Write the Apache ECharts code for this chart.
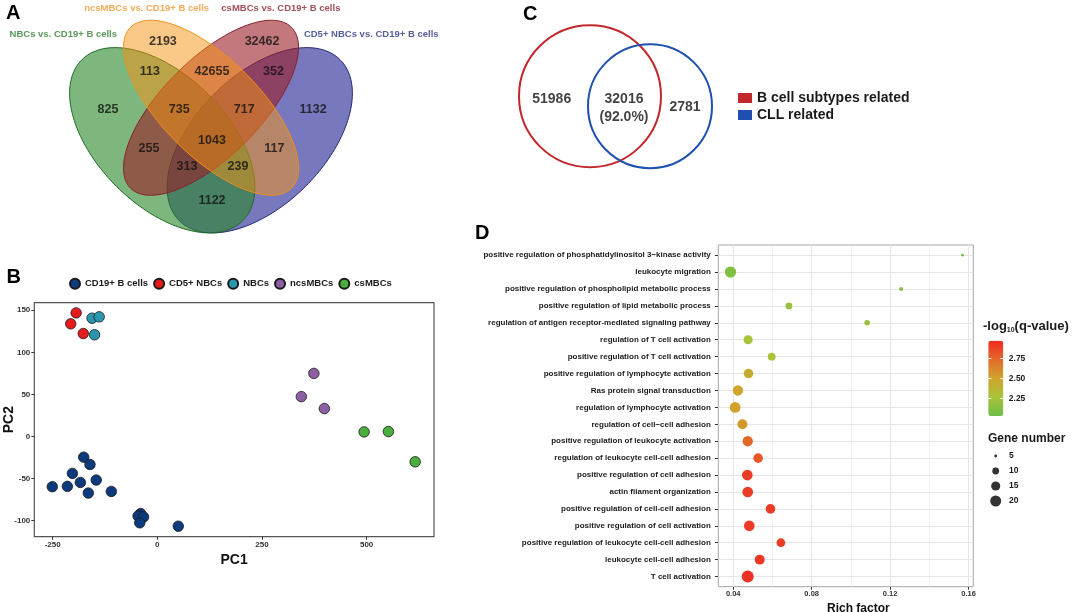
<!DOCTYPE html>
<html><head><meta charset="utf-8">
<script src="https://cdn.jsdelivr.net/npm/echarts@6/dist/echarts.min.js"></script>
<style>html,body{margin:0;padding:0;background:#fff}#c{width:1072px;height:612px}</style>
</head><body><div id="c"></div>
<script>
// ================= DATA =================
// Panel A – four-set Venn
const vennSetNames = ['NBCs vs. CD19+ B cells', 'ncsMBCs vs. CD19+ B cells', 'csMBCs vs. CD19+ B cells', 'CD5+ NBCs vs. CD19+ B cells'];
const vennRegionCounts = [2193, 32462, 113, 42655, 352, 825, 735, 717, 1132, 1043, 255, 117, 313, 239, 1122];

// Panel B – PCA
const pcaGroups = ['CD19+ B cells', 'CD5+ NBCs', 'NBCs', 'ncsMBCs', 'csMBCs'];
const pcaCD19 = [[-176, -24.5], [-161, -33.2], [-203, -43.8], [-184, -54.5], [-146, -51.7], [-251, -59.6], [-215, -59.2], [-165, -67.1], [-110, -65.2], [-40, -91.5], [-46, -94.5], [-33, -95.5], [-42, -102.5], [50, -106.5]];
const pcaCD5NBC = [[-194, 146.9], [-207, 133.9], [-177, 122.4]];
const pcaNBC = [[-156, 140.6], [-139, 142.2], [-150, 120.9]];
const pcaNcsMBC = [[374, 75], [344, 47.4], [399, 33.2]];
const pcaCsMBC = [[494, 5.5], [552, 5.9], [616, -30]];
const pcaXTicks = [-250, 0, 250, 500];
const pcaYTicks = [-100, -50, 0, 50, 100, 150];

// Panel C – two-set Venn
const vennCNames = ['B cell subtypes related', 'CLL related'];
const vennCCounts = [51986, 32016, 2781];

// Panel D – GO enrichment bubble chart (top to bottom)
const goTerms = [
  'positive regulation of phosphatidylinositol 3\u2212kinase activity',
  'leukocyte migration',
  'positive regulation of phospholipid metabolic process',
  'positive regulation of lipid metabolic process',
  'regulation of antigen receptor-mediated signaling pathway',
  'regulation of T cell activation',
  'positive regulation of T cell activation',
  'positive regulation of lymphocyte activation',
  'Ras protein signal transduction',
  'regulation of lymphocyte activation',
  'regulation of cell\u2212cell adhesion',
  'positive regulation of leukocyte activation',
  'regulation of leukocyte cell-cell adhesion',
  'positive regulation of cell adhesion',
  'actin filament organization',
  'positive regulation of cell-cell adhesion',
  'positive regulation of cell activation',
  'positive regulation of leukocyte cell-cell adhesion',
  'leukocyte cell-cell adhesion',
  'T cell activation'
];
const richFactor = [0.1569, 0.0386, 0.1256, 0.0684, 0.1083, 0.0476, 0.0596, 0.0478, 0.0424, 0.0410, 0.0447, 0.0474, 0.0527, 0.0472, 0.0474, 0.0590, 0.0482, 0.0643, 0.0535, 0.0474];
const negLogQ = [2.08, 2.10, 2.15, 2.20, 2.20, 2.26, 2.27, 2.45, 2.50, 2.51, 2.55, 2.74, 2.80, 2.90, 2.90, 2.90, 2.91, 2.90, 2.92, 2.94];
const geneNumber = [5, 21, 6, 10, 8, 15, 12, 16, 18, 19, 17, 18, 16, 19, 19, 16, 19, 14, 17, 23];
const richTicks = [0.04, 0.08, 0.12, 0.16];
const qTicks = [2.25, 2.50, 2.75];
const geneLegend = [5, 10, 15, 20];

// ================= LAYOUT / STYLE =================
const FONT = '"Liberation Sans", Arial, Helvetica, sans-serif';
// Venn A geometry in unit coords: [cx, cy, a, b, rotationDeg]  (draw order: blue, green, red, orange)
const vennEllipses = [[0.65, 0.47, 0.35, 0.20, 45], [0.35, 0.47, 0.35, 0.20, -45], [0.5, 0.57, 0.35, 0.15, 45], [0.5, 0.57, 0.35, 0.15, -45]];
const vennEllipseStyle = [
  {fill: 'rgba(30,30,147,0.6)', stroke: '#25296e'},
  {fill: 'rgba(40,135,40,0.6)', stroke: '#1f6a22'},
  {fill: 'rgba(155,30,38,0.6)', stroke: '#86202a'},
  {fill: 'rgba(245,145,15,0.5)', stroke: '#f0901a'}
];
const vennLabelPos = [[0.352, 0.775], [0.657, 0.775], [0.312, 0.680], [0.503, 0.680], [0.692, 0.680], [0.183, 0.566], [0.402, 0.566], [0.602, 0.566], [0.814, 0.566], [0.503, 0.468], [0.309, 0.443], [0.695, 0.443], [0.426, 0.388], [0.583, 0.388], [0.503, 0.283]];
const vennSetPos = [[0.0455, 0.797], [0.302, 0.876], [0.715, 0.876], [0.993, 0.797]];
const vennSetColor = ['#2f7d32', '#f0962d', '#8b2230', '#2b3580'];
// Venn C geometry (grid units): [cx, cy, r]
const vennCCircles = [[100, 96.2, 71], [160, 106.2, 62]];
const vennCColors = ['#c1272d', '#1f4fb0'];
const vennCLabelPos = [[61.7, 99], [134, 108.2], [195, 106.7]];
const pcaColors = ['#0d3a7d', '#e41a1c', '#2897ae', '#8e5ea2', '#4aae3f'];

function geneSize(v) { return 2.7 * Math.sqrt(Math.max(v - 4, 0)) + 0.2; }

const pcaSets = [pcaCD19, pcaCD5NBC, pcaNBC, pcaNcsMBC, pcaCsMBC];
const seq = (n) => Array.from({length: n}, (_, i) => i);

const chart = echarts.init(document.getElementById('c'), null, {renderer: 'canvas'});

const boldLbl = (size, color) => ({fontFamily: FONT, fontWeight: 'bold', fontSize: size, color: color || '#1a1a1a'});

const series = [];
// 0: Venn A ellipses
series.push({
  type: 'custom', xAxisIndex: 0, yAxisIndex: 0, silent: true,
  data: vennEllipses,
  renderItem: function (params, api) {
    const cx = api.value(0), cy = api.value(1), a = api.value(2), b = api.value(3), rot = api.value(4) * Math.PI / 180;
    const pts = [];
    for (let k = 0; k < 180; k++) {
      const t = k / 180 * 2 * Math.PI, ex = a * Math.cos(t), ey = b * Math.sin(t);
      pts.push(api.coord([cx + ex * Math.cos(rot) - ey * Math.sin(rot), cy + ex * Math.sin(rot) + ey * Math.cos(rot)]));
    }
    const st = vennEllipseStyle[params.dataIndex];
    return {type: 'polygon', shape: {points: pts}, style: {fill: st.fill, stroke: st.stroke, lineWidth: 1}};
  }
});
// 1: Venn A counts
series.push({
  type: 'scatter', xAxisIndex: 0, yAxisIndex: 0, silent: true, symbolSize: 1, itemStyle: {color: 'rgba(0,0,0,0)'}, z: 5,
  data: vennRegionCounts.map((c, i) => [vennLabelPos[i][0], vennLabelPos[i][1], c]),
  label: {show: true, position: 'inside', formatter: p => String(p.value[2]), ...boldLbl(12.5, '#111')}
});
// 2: Venn A set names
series.push({
  type: 'scatter', xAxisIndex: 0, yAxisIndex: 0, silent: true, symbolSize: 1, itemStyle: {color: 'rgba(0,0,0,0)'}, z: 5,
  data: vennSetNames.map((n, i) => ({value: [vennSetPos[i][0], vennSetPos[i][1]], name: n, label: {color: vennSetColor[i]}})),
  label: {show: true, position: 'inside', formatter: p => p.name, fontFamily: FONT, fontWeight: 'bold', fontSize: 9.5}
});
// 3-7: PCA
pcaGroups.forEach((g, i) => {
  series.push({
    type: 'scatter', name: g, xAxisIndex: 1, yAxisIndex: 1, symbolSize: 10.5,
    itemStyle: {color: pcaColors[i], borderColor: '#1a1a1a', borderWidth: 0.8, opacity: 1},
    data: pcaSets[i]
  });
});
// 8-9: Venn C circles
vennCNames.forEach((n, i) => {
  series.push({
    type: 'custom', name: n, xAxisIndex: 2, yAxisIndex: 2, silent: true,
    itemStyle: {color: vennCColors[i]},
    data: [vennCCircles[i]],
    renderItem: function (params, api) {
      const c = api.coord([api.value(0), api.value(1)]);
      const r = api.size([api.value(2), 0])[0];
      return {type: 'circle', shape: {cx: c[0], cy: c[1], r: r}, style: {fill: 'none', stroke: vennCColors[i], lineWidth: 2}};
    }
  });
});
// 10: Venn C labels
series.push({
  type: 'scatter', xAxisIndex: 2, yAxisIndex: 2, silent: true, symbolSize: 1, itemStyle: {color: 'rgba(0,0,0,0)'}, z: 5,
  data: vennCCounts.map((c, i) => [vennCLabelPos[i][0], vennCLabelPos[i][1], c]),
  label: {
    show: true, position: 'inside', lineHeight: 18, ...boldLbl(14, '#111'),
    formatter: p => p.dataIndex === 1
      ? p.value[2] + '\n(' + (vennCCounts[1] / (vennCCounts[1] + vennCCounts[2]) * 100).toFixed(1) + '%)'
      : String(p.value[2])
  }
});
// 11: D grid lines
const gridMajorX = richTicks.map(v => ({xAxis: v}));
const gridMinorX = [0.06, 0.10, 0.14].map(v => ({xAxis: v, lineStyle: {width: 0.5}}));
const gridY = seq(goTerms.length).map(i => ({yAxis: i}));
series.push({
  type: 'scatter', xAxisIndex: 3, yAxisIndex: 3, data: [], z: 1, silent: true,
  markLine: {silent: true, z: 1, symbol: ['none', 'none'], label: {show: false}, animation: false,
    lineStyle: {color: '#e6e6e6', width: 1, type: 'solid'},
    data: gridMajorX.concat(gridMinorX, gridY)}
});
// 12: D bubbles
series.push({
  type: 'scatter', xAxisIndex: 3, yAxisIndex: 3, z: 3,
  data: goTerms.map((t, i) => [richFactor[i], i, negLogQ[i], geneNumber[i]]),
  encode: {x: 0, y: 1},
  symbolSize: v => geneSize(v[3]),
  itemStyle: {opacity: 1}
});
// 13: gene number size legend
series.push({
  type: 'scatter', xAxisIndex: 5, yAxisIndex: 6, silent: true,
  data: geneLegend.map((g, i) => [0, i, g]),
  symbolSize: v => geneSize(v[2]),
  itemStyle: {color: '#000'}
});

const G = {outerBoundsMode: 'none', containLabel: false};
const option = {
  animation: false,
  backgroundColor: '#fff',
  textStyle: {fontFamily: FONT},
  title: [
    {text: 'A', left: 6, top: 3, padding: 0, textStyle: {fontFamily: FONT, fontSize: 20, fontWeight: 'bold', color: '#000'}},
    {text: 'B', left: 6.5, top: 267, padding: 0, textStyle: {fontFamily: FONT, fontSize: 20, fontWeight: 'bold', color: '#000'}},
    {text: 'C', left: 523, top: 4, padding: 0, textStyle: {fontFamily: FONT, fontSize: 20, fontWeight: 'bold', color: '#000'}},
    {text: 'D', left: 475, top: 223.5, padding: 0, textStyle: {fontFamily: FONT, fontSize: 20, fontWeight: 'bold', color: '#000'}},
    {text: '{a|-log}{s|10}{a|(q-value)}', left: 983, top: 318.5, padding: 0,
      textStyle: {rich: {
        a: {fontFamily: FONT, fontSize: 13, fontWeight: 'bold', color: '#1a1a1a', lineHeight: 16},
        s: {fontFamily: FONT, fontSize: 7, fontWeight: 'bold', color: '#1a1a1a', lineHeight: 8, padding: [8, 0, 0, 0]}
      }}},
    {text: 'Gene number', left: 988, top: 433, padding: 0, textStyle: {fontFamily: FONT, fontSize: 12, fontWeight: 'bold', color: '#1a1a1a'}}
  ],
  legend: [
    {data: pcaGroups, left: 69, top: 277.7, itemWidth: 10, itemHeight: 10, itemGap: 5, icon: 'circle', padding: 0,
      selectedMode: false, textStyle: boldLbl(9.5, '#1a1a1a')},
    {data: vennCNames, left: 738, top: 91, orient: 'vertical', itemWidth: 14, itemHeight: 10, itemGap: 3, icon: 'rect', padding: 0,
      selectedMode: false, textStyle: boldLbl(14, '#1a1a1a')}
  ],
  grid: [
    {...G, left: 48.5, top: 0.5, width: 325, height: 260},
    {...G, left: 34.3, top: 302.7, width: 399.7, height: 234, show: true, borderColor: '#555', borderWidth: 1.2, backgroundColor: 'transparent'},
    {...G, left: 490, top: 0, width: 440, height: 210},
    {...G, left: 718.3, top: 245, width: 255, height: 341.7, show: true, borderColor: '#a6a6a6', borderWidth: 1, backgroundColor: 'transparent'},
    {...G, left: 988.3, top: 340.7, width: 15, height: 75.3},
    {...G, left: 989.7, top: 448.5, width: 12, height: 60}
  ],
  xAxis: [
    {gridIndex: 0, type: 'value', min: 0, max: 1, show: false},
    {gridIndex: 1, type: 'value', min: -294, max: 661,
      axisLine: {show: false, onZero: false}, splitLine: {show: false},
      axisTick: {show: true, customValues: pcaXTicks, length: 3, lineStyle: {color: '#333'}},
      axisLabel: {customValues: pcaXTicks, margin: 4, ...boldLbl(8, '#333')},
      name: 'PC1', nameLocation: 'middle', nameGap: 16, nameMoveOverlap: false, nameTextStyle: boldLbl(14, '#111')},
    {gridIndex: 2, type: 'value', min: 0, max: 440, show: false},
    {gridIndex: 3, type: 'value', min: 0.0324, max: 0.1624,
      axisLine: {show: false, onZero: false}, splitLine: {show: false},
      axisTick: {show: true, customValues: richTicks, length: 3, lineStyle: {color: '#333'}},
      axisLabel: {customValues: richTicks, margin: 3.5, formatter: v => v.toFixed(2), ...boldLbl(7.5, '#333')},
      name: 'Rich factor', nameLocation: 'middle', nameGap: 12, nameTextStyle: {...boldLbl(12, '#111'), padding: [0, 0, 0, 25]}},
    {gridIndex: 4, type: 'value', min: 0, max: 1, show: false},
    {gridIndex: 5, type: 'value', min: -1, max: 1, show: false}
  ],
  yAxis: [
    {gridIndex: 0, type: 'value', min: 0.1, max: 0.9, show: false},
    {gridIndex: 1, type: 'value', min: -119, max: 159,
      axisLine: {show: false, onZero: false}, splitLine: {show: false},
      axisTick: {show: true, customValues: pcaYTicks, length: 3, lineStyle: {color: '#333'}},
      axisLabel: {customValues: pcaYTicks, margin: 4, ...boldLbl(8, '#333')},
      name: 'PC2', nameLocation: 'middle', nameGap: 18, nameRotate: 90, nameMoveOverlap: false, nameTextStyle: boldLbl(14, '#111')},
    {gridIndex: 2, type: 'value', min: 0, max: 210, inverse: true, show: false},
    {gridIndex: 3, type: 'value', min: -0.6, max: goTerms.length - 0.4, inverse: true,
      axisLine: {show: false, onZero: false}, splitLine: {show: false},
      axisTick: {show: true, customValues: seq(goTerms.length), length: 3.5, lineStyle: {color: '#333'}},
      axisLabel: {customValues: seq(goTerms.length), margin: 7.5, formatter: v => goTerms[Math.round(v)], ...boldLbl(8, '#1a1a1a')}},
    {gridIndex: 4, type: 'value', min: 2.03, max: 2.97, position: 'left', z: 10,
      axisLine: {show: false, onZero: false}, splitLine: {show: false}, axisLabel: {show: false},
      axisTick: {show: true, inside: true, customValues: qTicks, length: 3, lineStyle: {color: '#fff', width: 1}}},
    {gridIndex: 4, type: 'value', min: 2.03, max: 2.97, position: 'right', z: 10,
      axisLine: {show: false, onZero: false}, splitLine: {show: false},
      axisTick: {show: true, inside: true, customValues: qTicks, length: 3, lineStyle: {color: '#fff', width: 1}},
      axisLabel: {customValues: qTicks, margin: 5.5, formatter: v => v.toFixed(2), ...boldLbl(8.5, '#1a1a1a')}},
    {gridIndex: 5, type: 'category', data: geneLegend.map(String), inverse: true, position: 'right',
      axisLine: {show: false}, axisTick: {show: false}, splitLine: {show: false},
      axisLabel: {margin: 7.3, ...boldLbl(8.5, '#1a1a1a')}}
  ],
  visualMap: [{
    type: 'continuous', seriesIndex: 12, dimension: 2, min: 2.03, max: 2.97,
    left: 988.3, top: 340.7, itemWidth: 15, itemHeight: 75.3, padding: 0,
    calculable: false, hoverLink: false, showLabel: false, text: null,
    inRange: {color: ['#6dbe45', '#a9c23a', '#cfa52c', '#e4692a', '#ee2a23']}
  }],
  series: series
};
chart.setOption(option);
</script>
</body></html>
